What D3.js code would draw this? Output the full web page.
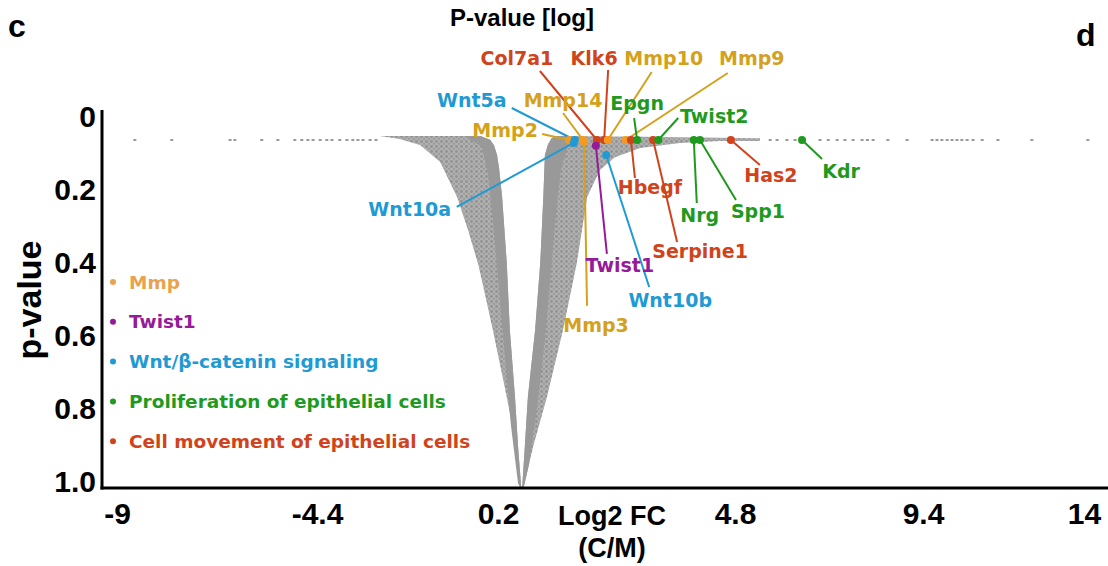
<!DOCTYPE html>
<html>
<head>
<meta charset="utf-8">
<script src="https://cdn.jsdelivr.net/npm/d3@7"></script>
<style>
  body { margin: 0; background: #fff; }
  svg text { font-family: "Liberation Sans", Arial, sans-serif; font-weight: bold; }
  svg text.gene, svg .legend text { font-family: "DejaVu Sans", sans-serif; }
</style>
</head>
<body>
<svg id="chart" width="1108" height="566"></svg>
<script>
// volcano plot, panel c

// axis ticks (the figure's x labels are not evenly spaced, so the scale is piecewise)
const xTicks = [-9, -4.4, 0.2, 4.8, 9.4, 14];
const yTicks = [0, 0.2, 0.4, 0.6, 0.8, 1.0];
const yTickLabels = ["0", "0.2", "0.4", "0.6", "0.8", "1.0"];

// grey cloud: outline of the two arms of the V  [log2FC, p]
const leftArmOuter = [
  [-2.80, 0.052], [-2.30, 0.060], [-1.78, 0.077], [-1.27, 0.123], [-0.84, 0.219], [-0.56, 0.310],
  [-0.30, 0.405], [-0.10, 0.501], [0.07, 0.584], [0.24, 0.679], [0.37, 0.767],
  [0.49, 0.858], [0.57, 0.940], [0.61, 1.014], [0.65, 1.014], [0.59, 0.904],
  [0.53, 0.767], [0.43, 0.584], [0.37, 0.400], [0.28, 0.219], [0.22, 0.140], [0.175, 0.104],
  [0.10, 0.078], [0.00, 0.062], [-0.25, 0.052]
];
const leftArmCore = [
  [-0.64, 0.052], [-0.21, 0.082], [-0.06, 0.151], [0.07, 0.282], [0.22, 0.474],
  [0.34, 0.666], [0.45, 0.844], [0.59, 1.005], [0.65, 1.014], [0.59, 0.904],
  [0.53, 0.767], [0.43, 0.584], [0.37, 0.400], [0.28, 0.219], [0.22, 0.140], [0.175, 0.104],
  [0.10, 0.078], [0.00, 0.062], [-0.25, 0.052]
];
const rightArmOuter = [
  [1.33, 0.052], [1.24, 0.058], [1.17, 0.075], [1.11, 0.104], [1.08, 0.219], [1.02, 0.400],
  [0.92, 0.584], [0.78, 0.767], [0.72, 0.904], [0.67, 1.014], [0.70, 1.014],
  [0.88, 0.904], [1.15, 0.767], [1.46, 0.584], [1.73, 0.400], [1.93, 0.219],
  [2.18, 0.145], [2.47, 0.110], [2.96, 0.085], [3.73, 0.071], [4.51, 0.066],
  [5.41, 0.066], [5.41, 0.058], [3.00, 0.054]
];
const rightArmCore = [
  [1.33, 0.052], [1.24, 0.058], [1.17, 0.075], [1.11, 0.104], [1.08, 0.219], [1.02, 0.400],
  [0.92, 0.584], [0.78, 0.767], [0.72, 0.904], [0.67, 1.014], [0.70, 1.014],
  [0.80, 0.953], [0.95, 0.803], [1.11, 0.611], [1.23, 0.419], [1.33, 0.255],
  [1.42, 0.145], [1.56, 0.077], [1.89, 0.055]
];
// lone genes along the top row (p ~ 0.063)
const topRowFC = [
  -8.59, -7.74, -6.40, -6.29, -5.67, -5.30, -4.91, -4.75, -4.61, -4.49, -4.32,
  -4.15, -4.02, -3.82, -3.64, -3.49, -3.36, -3.23, -3.05, -2.90,
  5.66, 5.83, 6.07, 6.27, 6.88, 7.08, 7.30, 7.49, 7.69, 7.91, 8.04, 8.18, 8.54,
  9.01, 9.66, 9.80, 9.94, 10.09, 10.23, 10.37, 10.51, 10.66, 10.83, 11.09,
  11.54, 12.51, 14.11
];
const topRowP = 0.063;

// highlighted genes
const geneNames = ["Mmp2", "Wnt5a", "Wnt10a", "Mmp14", "Mmp3", "Col7a1", "Twist1", "Klk6",
  "Mmp10", "Wnt10b", "Mmp9", "Hbegf", "Epgn", "Serpine1", "Twist2", "Nrg", "Spp1", "Has2", "Kdr"];
const geneFC = [1.58, 1.69, 1.67, 1.85, 1.87, 2.12, 2.10, 2.26,
  2.33, 2.30, 2.68, 2.78, 2.90, 3.21, 3.31, 4.00, 4.12, 4.72, 6.44];
const geneP = [0.063, 0.063, 0.071, 0.063, 0.068, 0.063, 0.079, 0.063,
  0.063, 0.104, 0.063, 0.063, 0.063, 0.063, 0.063, 0.063, 0.063, 0.063, 0.063];
const geneGroup = ["mmp", "wnt", "wnt", "mmp", "mmp", "move", "twist", "move",
  "mmp", "wnt", "mmp", "move", "prolif", "move", "prolif", "prolif", "prolif", "move", "prolif"];

// legend
const groupKeys = ["mmp", "twist", "wnt", "prolif", "move"];
const groupLabels = ["Mmp", "Twist1", "Wnt/β-catenin signaling",
  "Proliferation of epithelial cells", "Cell movement of epithelial cells"];

// colours
const dotColor = { mmp: "#f49a22", twist: "#951b98", wnt: "#1f9ad3", prolif: "#1f9a1f", move: "#d0431b" };
const textColor = { mmp: "#d4a11d", twist: "#951b98", wnt: "#1f9ad3", prolif: "#1f9a1f", move: "#d0431b" };
const legendColor = { mmp: "#e9a24e", twist: "#951b98", wnt: "#1f9ad3", prolif: "#1f9a1f", move: "#d0431b" };

// label placement, pixel offsets from each gene's dot: [label dx, dy, leader end dx, dy]
const labelOffsets = [
  [-64, -10, -27, -6], [-103, -40, -63, -32], [-164, 66, -117, 64], [-20, -40, -20, -27],
  [12, 183, 3, 164], [-80, -82, -57, -69], [24, 119, 11, 108], [-10, -82, 4, -70],
  [56, -82, 44, -68], [64, 145, 43, 132], [126, -82, 102, -67], [19, 47, 4, 38],
  [0, -37, -3, -22], [47, 111, 24, 102], [56, -24, 20, -22], [6, 75, 3, 63],
  [58, 71, 36, 60], [40, 35, 29, 25], [39, 31, 20, 19]
];

const svg = d3.select("#chart");
const x = d3.scaleLinear().domain(xTicks).range([117, 317, 498, 735, 923, 1084]);
const y = d3.scaleLinear().domain([0, 1]).range([117, 482]);
const axisY = 488, axisX = 102;

// speckled texture for the looser part of the cloud
const pat = svg.append("defs").append("pattern").attr("id", "speckle")
  .attr("patternUnits", "userSpaceOnUse").attr("width", 5).attr("height", 5);
pat.append("rect").attr("width", 5).attr("height", 5).attr("fill", "#b0b0b0");
pat.append("circle").attr("cx", 1.5).attr("cy", 1.5).attr("r", 1.4).attr("fill", "#929292");
pat.append("circle").attr("cx", 4).attr("cy", 3.8).attr("r", 1.1).attr("fill", "#9a9a9a");

// cloud
const area = d3.line().x(d => x(d[0])).y(d => y(d[1])).curve(d3.curveLinearClosed);
svg.append("path").attr("d", area(leftArmOuter)).attr("fill", "url(#speckle)");
svg.append("path").attr("d", area(rightArmOuter)).attr("fill", "url(#speckle)");
svg.append("path").attr("d", area(leftArmCore)).attr("fill", "#999");
svg.append("path").attr("d", area(rightArmCore)).attr("fill", "#999");

svg.append("g").selectAll("rect").data(topRowFC).join("rect")
  .attr("x", d => x(d) - 1.5).attr("y", y(topRowP) - 1)
  .attr("width", 3).attr("height", 2).attr("fill", "#9a9a9a");

// axes
const xAxis = svg.append("g").attr("transform", `translate(0,${axisY})`)
  .call(d3.axisBottom(x).tickValues(xTicks).tickSize(0).tickPadding(15).tickFormat(d => String(d)));
xAxis.select(".domain").remove();
xAxis.selectAll("text").attr("font-size", 30).attr("fill", "#000");

const yAxis = svg.append("g").attr("transform", `translate(${axisX},0)`)
  .call(d3.axisLeft(y).tickValues(yTicks).tickSize(0).tickPadding(6).tickFormat((d, i) => yTickLabels[i]));
yAxis.select(".domain").remove();
yAxis.selectAll("text").attr("font-size", 30).attr("fill", "#000");

svg.append("line").attr("x1", axisX).attr("x2", axisX).attr("y1", 110).attr("y2", axisY + 1.5)
  .attr("stroke", "#000").attr("stroke-width", 3);
svg.append("line").attr("x1", axisX - 1.5).attr("x2", 1108).attr("y1", axisY).attr("y2", axisY)
  .attr("stroke", "#000").attr("stroke-width", 3);

// axis titles and panel letters
svg.append("text").attr("x", 612).attr("y", 525).attr("text-anchor", "middle").attr("font-size", 27).text("Log2 FC");
svg.append("text").attr("x", 612).attr("y", 557).attr("text-anchor", "middle").attr("font-size", 27).text("(C/M)");
svg.append("text").attr("transform", "translate(41,300) rotate(-90)").attr("text-anchor", "middle")
  .attr("font-size", 34).text("p-value");
svg.append("text").attr("x", 522).attr("y", 26).attr("text-anchor", "middle").attr("font-size", 24).text("P-value [log]");
svg.append("text").attr("x", 8).attr("y", 37).attr("font-size", 32).text("c");
svg.append("text").attr("x", 1076).attr("y", 46).attr("font-size", 32).text("d");

// genes
const genes = geneNames.map((name, i) => ({
  name, fc: geneFC[i], p: geneP[i], g: geneGroup[i], off: labelOffsets[i]
}));

svg.append("g").selectAll("line").data(genes).join("line")
  .attr("x1", d => x(d.fc)).attr("y1", d => y(d.p))
  .attr("x2", d => x(d.fc) + d.off[2]).attr("y2", d => y(d.p) + d.off[3])
  .attr("stroke", d => textColor[d.g]).attr("stroke-width", 2);

svg.append("g").selectAll("circle").data(genes).join("circle")
  .attr("cx", d => x(d.fc)).attr("cy", d => y(d.p)).attr("r", 4)
  .attr("fill", d => dotColor[d.g]);

svg.append("g").selectAll("text").data(genes).join("text")
  .attr("class", "gene")
  .attr("x", d => x(d.fc) + d.off[0]).attr("y", d => y(d.p) + d.off[1])
  .attr("dy", "0.36em").attr("text-anchor", "middle").attr("font-size", 19)
  .attr("fill", d => textColor[d.g]).text(d => d.name);

// legend
const legend = svg.append("g").attr("class", "legend").attr("transform", "translate(113,282)");
const items = legend.selectAll("g").data(groupKeys).join("g")
  .attr("transform", (d, i) => `translate(0,${i * 39.8})`);
items.append("circle").attr("r", 3).attr("fill", d => legendColor[d]);
items.append("text").attr("x", 16).attr("dy", "0.36em").attr("font-size", 18.5)
  .attr("fill", d => legendColor[d]).text((d, i) => groupLabels[i]);
</script>
</body>
</html>
